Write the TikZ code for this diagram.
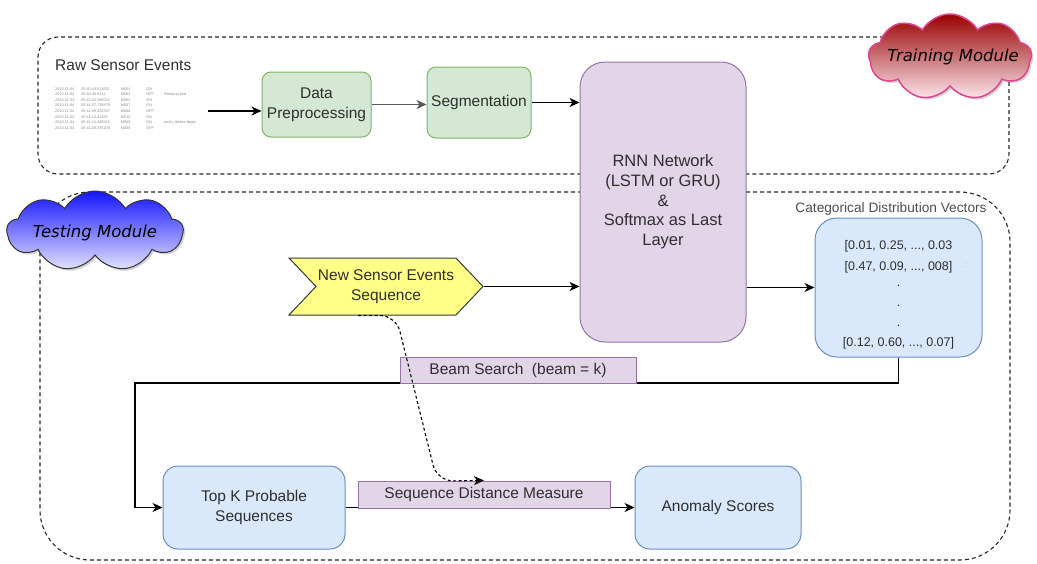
\documentclass[tikz,border=0pt]{standalone}
\usepackage{fontspec}
\setmainfont{Liberation Sans}
\newfontfamily\cloudfont{DejaVu Sans}
\usetikzlibrary{shapes.symbols,shadows,arrows.meta}

\definecolor{txt}{HTML}{2E2E2E}
\definecolor{greenfill}{HTML}{D5E8D4}
\definecolor{greenline}{HTML}{82B366}
\definecolor{purplefill}{HTML}{E1D5E7}
\definecolor{purpleline}{HTML}{9673A6}
\definecolor{bluefill}{HTML}{DAE8FC}
\definecolor{blueline}{HTML}{6C8EBF}
\definecolor{yellowfill}{HTML}{FFFF88}
\definecolor{yellowline}{HTML}{36393D}
\definecolor{trainTop}{HTML}{990000}
\definecolor{trainBot}{HTML}{FBE6EC}
\definecolor{trainLine}{HTML}{E0448F}
\definecolor{testTop}{HTML}{1414FF}
\definecolor{testBot}{HTML}{E2E2FF}
\definecolor{rawtxt}{HTML}{8A8A8A}

\begin{document}
\begin{tikzpicture}[x=1pt,y=-1pt,
  boxtext/.style={align=center,text=txt,inner sep=0pt,font=\fontsize{15.5}{20}\selectfont},
  greenbox/.style={boxtext,draw=greenline,fill=greenfill,line width=1pt,rounded corners=9pt},
  purplebox/.style={boxtext,draw=purpleline,fill=purplefill,line width=1pt},
  bluebox/.style={boxtext,draw=blueline,fill=bluefill,line width=1pt},
  labelbox/.style={purplebox,font=\fontsize{15.5}{19}\selectfont},
  conn/.style={line width=1.3pt,-{Stealth[length=10pt,width=9pt,inset=3pt]}},
  modulebox/.style={draw=black!85,line width=1.1pt,dash pattern=on 4pt off 3pt},
  modulecloud/.style={cloud,cloud puffs=9,cloud puff arc=120,cloud ignores aspect,inner sep=0pt,
    drop shadow={shadow xshift=2pt,shadow yshift=-2pt,opacity=0.35}},
  cloudtitle/.style={font=\cloudfont\itshape\fontsize{16.5}{18}\selectfont,text=black,inner sep=0pt},
]
\useasboundingbox (0,0) rectangle (1037,563);

% module frames
\node[modulebox,rounded corners=20pt,minimum width=971pt,minimum height=137pt] (trainframe) at (523.5,105.5) {};
\node[modulebox,rounded corners=50pt,minimum width=970pt,minimum height=368pt] (testframe) at (525,376) {};

% raw events
\node[anchor=west,text=txt,font=\fontsize{15.5}{18}\selectfont,inner sep=0pt] (rawtitle) at (55,65) {Raw Sensor Events};
\node[anchor=north west,inner sep=0pt,text=rawtxt,font=\fontsize{3.8}{5.6}\selectfont] (rawdata) at (55,86)
{\begin{tabular}{@{}l@{\hspace{7pt}}l@{\hspace{11pt}}l@{\hspace{16pt}}l@{\hspace{10pt}}l@{}}
2010-11-04 & 05:40:43.511000 & M004 & ON & \\
2010-11-04 & 05:40:46.5214 & M004 & OFF & Sleeping end\\
2010-11-04 & 05:41:03.265022 & M005 & ON & \\
2010-11-04 & 05:41:07.738879 & M007 & ON & \\
2010-11-04 & 05:41:09.203397 & M008 & OFF & \\
2010-11-04 & 05:41:10.41455 & M010 & ON & \\
2010-11-04 & 05:41:21.388525 & M009 & ON & wash\_dishes begin\\
2010-11-04 & 05:41:28.335209 & M008 & OFF & \\
\end{tabular}};
\coordinate (rawout) at (208,111);

% training pipeline
\node[greenbox,minimum width=109pt,minimum height=65pt] (prep) at (316.5,104.5) {Data\\Preprocessing};
\node[greenbox,minimum width=104pt,minimum height=71pt] (seg) at (479,102.5) {Segmentation};
\node[purplebox,rounded corners=25pt,minimum width=166pt,minimum height=280pt,
      font=\fontsize{16.5}{19.7}\selectfont] (rnn) at (663,202)
  {RNN Network\\(LSTM or GRU)\\\&\\Softmax as Last\\Layer};

\draw[conn] (rawout) -- (rawout -| prep.west);
\draw[conn,draw=black!65,line width=1.8pt] (prep.east) -- (prep.east -| seg.west);
\draw[conn] (seg.east) -- (seg.east -| rnn.west);

% testing pipeline
\node[signal,signal to=east,signal from=west,signal pointer angle=93,
      draw=yellowline,fill=yellowfill,line width=1pt,align=center,text=txt,inner sep=0pt,
      font=\fontsize{15.5}{20.5}\selectfont,minimum width=194pt,minimum height=57pt] (newseq) at (386,286.5)
  {New Sensor Events\\Sequence};
\node[bluebox,rounded corners=22pt,minimum width=167pt,minimum height=139pt] (dist) at (898.5,287.5) {};
\node[anchor=north,inner sep=0pt,align=center,text=txt,font=\fontsize{12.5}{15}\selectfont] (distvals) at (898.5,240)
  {[0.01, 0.25, ..., 0.03\\[6pt]
   [0.47, 0.09, ..., 008]\\[1.5pt]
   .\\[5pt]
   .\\[5pt]
   .\\[4.5pt]
   [0.12, 0.60, ..., 0.07]};
\node[inner sep=0pt,text=black!25,font=\fontsize{9}{10}\selectfont] (distmark) at (966,265) {:};
\node[anchor=south,inner sep=0pt,text=txt!85,font=\fontsize{13.7}{15}\selectfont] (distlabel) at (891,216)
  {Categorical Distribution Vectors};

\draw[conn] (newseq.east) -- (newseq.east -| rnn.west);
\draw[conn] (dist.west -| rnn.east) -- (dist.west);

\node[bluebox,rounded corners=15pt,minimum width=182pt,minimum height=83pt] (topk) at (254,507.5) {Top K Probable\\Sequences};
\node[bluebox,rounded corners=15pt,minimum width=166pt,minimum height=83pt] (anomaly) at (718,507.5) {Anomaly Scores};

\coordinate (beamturn) at (135,383);
\draw[conn] (dist.south) |- (beamturn) |- (topk.west);
\node[labelbox,minimum width=236pt,minimum height=26pt] (beam) at (518,370) {Beam Search\ \ (beam = k)};

\draw[conn] (topk.east) -- (anomaly.west);
\node[labelbox,minimum width=252pt,minimum height=27pt] (distance) at (484,494.5) {Sequence Distance Measure};

\coordinate (dashturn) at (437,481);
\draw[conn,line width=1.1pt,dash pattern=on 3pt off 2.5pt,rounded corners=16pt]
  ([xshift=-28pt]newseq.south) -- ([xshift=10pt]newseq.south) -- (dashturn) -- (distance.north);

% module titles
\node[modulecloud,draw=trainLine,line width=1.5pt,top color=trainTop,bottom color=trainBot,
      minimum width=163pt,minimum height=86pt] (traincloud) at (950,57) {};
\node[cloudtitle] (traintitle) at (953,57) {Training Module};
\node[modulecloud,draw=black!80,line width=1pt,top color=testTop,bottom color=testBot,
      minimum width=176pt,minimum height=80pt] (testcloud) at (95,231) {};
\node[cloudtitle] (testtitle) at (95,233) {Testing Module};
\end{tikzpicture}
\end{document}
